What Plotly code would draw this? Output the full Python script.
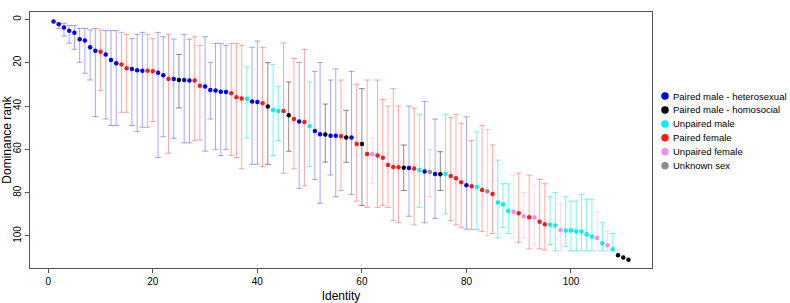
import plotly.graph_objects as go

# ---------------- data ----------------
identity = list(range(1, 112))

rank = [1.0, 2.3, 3.7, 5.2, 6.2, 9.2, 9.8, 12.9, 14.5, 14.9,
        16.2, 18.8, 20.3, 20.8, 22.6, 22.9, 23.5, 23.7, 23.7, 24.0,
        24.6, 25.8, 27.5, 27.5, 28.0, 28.0, 28.2, 28.2, 30.6, 31.0,
        32.6, 32.9, 33.4, 33.5, 34.1, 36.0, 36.5, 36.7, 37.9, 38.2,
        38.7, 40.2, 41.9, 42.3, 42.3, 44.3, 46.0, 47.2, 47.4, 49.4,
        51.5, 53.1, 53.2, 53.7, 53.7, 54.0, 54.5, 54.5, 57.5, 57.5,
        62.2, 62.3, 62.8, 63.9, 67.2, 68.2, 68.3, 68.5, 68.6, 68.9,
        69.5, 70.2, 70.5, 71.4, 71.5, 71.4, 72.3, 73.4, 75.2, 76.6,
        77.1, 77.4, 78.8, 79.4, 80.6, 84.6, 85.5, 88.5, 88.8, 89.5,
        90.9, 91.4, 91.5, 93.4, 94.6, 94.8, 95.2, 97.3, 97.5, 97.5,
        97.9, 97.9, 99.2, 100.2, 100.9, 103.4, 104.3, 106.2, 108.9, 110.0,
        111.0]

rank_low = [None, 1.8, 1.8, 2.8, 2.8, 4.2, 4.2, 4.9, 4.2, 4.9,
            5.2, 5.2, 5.2, 6.0, 6.9, 8.9, 6.9, 6.0, 6.9, 8.9,
            6.0, 8.0, 6.9, 9.1, 16.2, 6.9, 9.1, 8.0, 12.0, 8.0,
            19.8, 11.1, 11.1, 12.0, 11.1, 11.1, 12.0, 22.0, 12.9, 10.0,
            12.9, 20.0, 20.8, 30.9, 10.9, 28.9, 18.0, 19.9, 13.9, 28.9,
            24.0, 19.9, 39.1, 28.0, 22.9, 28.0, 42.0, 24.0, 30.0, 32.0,
            28.0, 54.8, 28.0, 37.0, 40.0, 32.0, 40.0, 58.0, 40.0, 41.0,
            44.0, 37.9, 60.0, 46.0, 61.1, 44.0, 45.4, 44.0, 48.0, 45.0,
            56.0, 52.0, 48.9, 50.8, 58.0, 65.0, 75.9, 75.9, 71.9, 71.0,
            79.9, 71.9, 76.9, 73.9, 75.9, 81.9, 79.9, 85.0, 81.9, 83.9,
            83.9, 80.8, 83.0, 83.0, 89.0, 93.9, 97.9, 98.9, None, None,
            None]

rank_high = [None, 4.2, 7.7, 11.0, 13.8, 19.8, 24.9, 28.0, 44.9, 32.9,
             46.0, 49.0, 49.0, 42.9, 42.9, 49.0, 51.8, 49.8, 49.8, 47.2,
             63.8, 54.2, 61.8, 54.9, 40.9, 57.0, 57.0, 56.0, 55.7, 60.8,
             46.0, 60.0, 62.9, 60.0, 62.9, 63.8, 69.0, 54.8, 66.9, 66.9,
             67.9, 66.9, 62.9, 56.0, 71.1, 60.9, 69.0, 78.0, 76.9, 67.9,
             73.9, 84.9, 65.9, 71.9, 81.9, 79.0, 66.0, 80.8, 83.9, 85.9,
             86.8, 75.9, 86.8, 85.9, 86.8, 92.9, 93.9, 79.0, 90.9, 94.9,
             86.8, 93.9, 81.9, 91.9, 79.0, 89.9, 92.9, 94.9, 96.0, 96.9,
             96.9, 97.0, 97.9, 100.0, 98.9, 100.9, 96.0, 98.9, 100.9, 102.9,
             100.9, 106.0, 104.0, 106.0, 106.5, 103.9, 106.9, 106.9, 104.9, 106.9,
             106.9, 106.9, 106.9, 106.9, 106.9, 106.9, 106.9, 106.9, None, None,
             None]

# B heterosexual paired male, K homosocial paired male, C unpaired male,
# R paired female, P unpaired female, G unknown sex
group_code = list(
    "BBBBBBBBBR"
    "BBBRRBBBRR"
    "BBRBKBBRRB"
    "BBBBRRRCBB"
    "RKCCRKRBRC"
    "BBKBBRKBRK"
    "RPRRRRRKBR"
    "CBGBKCRRRB"
    "RCRGRCCCPR"
    "PRPRRCCPCC"
    "CCCCPCPCKK"
    "K"
)

category_codes = ["B", "K", "C", "R", "P", "G"]
category_names = ["Paired male - heterosexual", "Paired male - homosocial",
                  "Unpaired male", "Paired female", "Unpaired female",
                  "Unknown sex"]

x_ticks = [0, 20, 40, 60, 80, 100]
y_ticks = [0, 20, 40, 60, 80, 100]

# ---------------- styles ----------------
point_colors = {"B": "#0000FF", "K": "#000000", "C": "#00F0F0",
                "R": "#FF1A1A", "P": "#F58CF0", "G": "#8C8C8C"}
bar_colors = {"B": "rgba(0,0,255,0.35)", "K": "rgba(0,0,0,0.45)",
              "C": "rgba(0,235,235,0.55)", "R": "rgba(255,0,0,0.35)",
              "P": "rgba(238,130,238,0.30)", "G": "rgba(128,128,128,0.30)"}
FONT = "Liberation Sans, Arial, Helvetica, sans-serif"

fig = go.Figure()

# error bars first (drawn underneath all points)
for code, name in zip(category_codes, category_names):
    idx = [i for i in range(len(identity))
           if group_code[i] == code and rank_low[i] is not None]
    if not idx:
        continue
    fig.add_trace(go.Scatter(
        x=[identity[i] for i in idx],
        y=[rank[i] for i in idx],
        mode="markers",
        marker=dict(size=1, color="rgba(0,0,0,0)"),
        error_y=dict(type="data", symmetric=False,
                     array=[rank_high[i] - rank[i] for i in idx],
                     arrayminus=[rank[i] - rank_low[i] for i in idx],
                     color=bar_colors[code], thickness=1, width=3),
        showlegend=False, hoverinfo="skip", name=name + " range"))

# points
for code, name in zip(category_codes, category_names):
    idx = [i for i in range(len(identity)) if group_code[i] == code]
    fig.add_trace(go.Scatter(
        x=[identity[i] for i in idx],
        y=[rank[i] for i in idx],
        mode="markers",
        marker=dict(size=4.5, color=point_colors[code], line=dict(width=0)),
        name=name, showlegend=False))

# legend drawn in a side panel
leg_y0, leg_step, leg_x = 96.0, 13.95, 665
fig.add_trace(go.Scatter(
    x=[leg_x] * len(category_codes),
    y=[leg_y0 + k * leg_step for k in range(len(category_codes))],
    mode="markers",
    marker=dict(size=7.5, color=[point_colors[c] for c in category_codes]),
    xaxis="x2", yaxis="y2", showlegend=False, hoverinfo="skip"))
for k, name in enumerate(category_names):
    fig.add_annotation(x=leg_x + 6, y=leg_y0 + k * leg_step, xref="x2", yref="y2",
                       text=name, showarrow=False, xanchor="left", yanchor="middle",
                       font=dict(size=9.5, color="#000", family=FONT))

W, H = 790, 303
ml, mr, mt, mb = 30, 1, 12, 35
pw = W - ml - mr
box_right = 652

axis_common = dict(showgrid=False, zeroline=False, showline=True, mirror=True,
                   linecolor="#555", linewidth=1, ticks="outside", ticklen=4,
                   tickcolor="#555", tickfont=dict(size=10, family=FONT, color="#000"),
                   automargin=False)

fig.update_layout(
    width=W, height=H,
    margin=dict(l=ml, r=mr, t=mt, b=mb),
    paper_bgcolor="white", plot_bgcolor="white",
    font=dict(family=FONT, color="#000"),
    xaxis=dict(domain=[0, (box_right - ml) / pw], range=[-3.5, 115.5],
               tickvals=x_ticks,
               title=dict(text="Identity", font=dict(size=12, family=FONT), standoff=6),
               **axis_common),
    yaxis=dict(range=[114.8, -3.4], tickvals=y_ticks, tickangle=-90,
               title=dict(text="Dominance rank", font=dict(size=12, family=FONT), standoff=2),
               **axis_common),
    xaxis2=dict(domain=[(655 - ml) / pw, 1], range=[655, W - mr], visible=False,
                anchor="y2"),
    yaxis2=dict(domain=[0, 1], range=[H - mb, mt], visible=False, anchor="x2"),
    showlegend=False,
)

fig.write_html("out.html",
               config={"displayModeBar": False},
               post_script="document.body.style.margin='0';document.body.style.overflow='hidden';")
